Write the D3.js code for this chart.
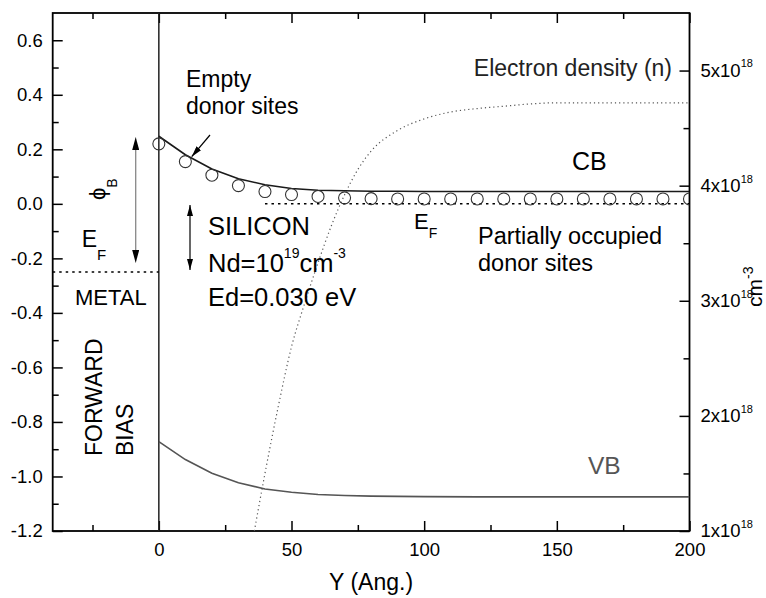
<!DOCTYPE html>
<html><head><meta charset="utf-8">
<script src="https://cdn.jsdelivr.net/npm/d3@7"></script>
<style>
body{margin:0;background:#fff;}
svg{font-family:"Liberation Sans",Arial,Helvetica,sans-serif;}
</style></head><body>
<svg id="chart" width="766" height="598"></svg>
<script>
// Depth into the semiconductor, Å
const bandX = [0, 10, 20, 30, 40, 50, 60, 70, 80, 90, 100, 120, 140, 160, 180, 200];
// Conduction and valence band edges, eV
const cbEnergy = [0.248, 0.18, 0.128, 0.092, 0.07, 0.056, 0.05, 0.048, 0.046, 0.046, 0.045, 0.045, 0.045, 0.045, 0.045, 0.045];
const vbEnergy = [-0.872, -0.938, -0.988, -1.023, -1.046, -1.058, -1.066, -1.07, -1.072, -1.073, -1.074, -1.075, -1.075, -1.075, -1.075, -1.075];
// Donor level positions, eV
const donorX = [0, 10, 20, 30, 40, 50, 60, 70, 80, 90, 100, 110, 120, 130, 140, 150, 160, 170, 180, 190, 200];
const donorLevel = [0.22, 0.155, 0.105, 0.067, 0.045, 0.034, 0.027, 0.022, 0.019, 0.018, 0.018, 0.018, 0.018, 0.018, 0.018, 0.018, 0.018, 0.018, 0.018, 0.018, 0.018];
// Electron density, 10^18 cm^-3
const densityX = [36, 40, 45, 50, 55, 60, 65, 70, 75, 80, 90, 100, 110, 120, 130, 140, 150, 160, 180, 200];
const densityN = [1.0, 1.5, 2.08, 2.6, 2.98, 3.33, 3.65, 3.92, 4.14, 4.3, 4.48, 4.58, 4.64, 4.67, 4.69, 4.71, 4.72, 4.72, 4.72, 4.72];
// Fermi levels, eV
const metalFermi = -0.25;
const siliconFermi = 0.0;
const siliconFermiStart = 40;
// Axis ticks
const xTicks = [0, 50, 100, 150, 200];
const xMinorTicks = [-25, 25, 75, 125, 175];
const yTicks = [-1.2, -1.0, -0.8, -0.6, -0.4, -0.2, 0.0, 0.2, 0.4, 0.6];
const yMinorTicks = [-1.1, -0.9, -0.7, -0.5, -0.3, -0.1, 0.1, 0.3, 0.5];
const nTicks = [1, 2, 3, 4, 5];
const nMinorTicks = [1.5, 2.5, 3.5, 4.5];

const svg = d3.select("#chart");
const L = 52.7, R = 689.5, T = 13, B = 531;

const x = d3.scaleLinear().domain([-40, 200]).range([L, R]);
const y = d3.scaleLinear().domain([-1.2, 0.7]).range([B, T]);
const yN = d3.scaleLinear().domain([1, 5.5]).range([B, T]);

const defs = svg.append("defs");
defs.append("clipPath").attr("id", "plot")
  .append("rect").attr("x", L).attr("y", T).attr("width", R - L).attr("height", B - T);
function marker(id, w, h) {
  defs.append("marker").attr("id", id)
    .attr("viewBox", "0 0 10 10").attr("refX", 10).attr("refY", 5)
    .attr("markerWidth", w).attr("markerHeight", h)
    .attr("markerUnits", "userSpaceOnUse")
    .attr("preserveAspectRatio", "none")
    .attr("orient", "auto-start-reverse")
    .append("path").attr("d", "M0,0 L10,5 L0,10 z").attr("fill", "#000");
}
marker("headL", 13, 7);
marker("headS", 11, 6);

// Plain hyphen for negative numbers
const fmt = d => d.toFixed(1);
const styleAxis = g => {
  g.select(".domain").remove();
  g.selectAll(".tick line").attr("stroke", "#000").attr("stroke-width", 1.5);
  g.selectAll(".tick text").attr("font-size", "18.5px").attr("fill", "#000");
};

// Left axis
svg.append("g").attr("transform", `translate(${L},0)`)
  .call(d3.axisLeft(y).tickValues(yTicks).tickFormat(fmt).tickSize(-10).tickPadding(10))
  .call(styleAxis);
svg.append("g").attr("transform", `translate(${L},0)`)
  .call(d3.axisLeft(y).tickValues(yMinorTicks).tickFormat("").tickSize(-6))
  .call(styleAxis);
// Bottom axis
svg.append("g").attr("transform", `translate(0,${B})`)
  .call(d3.axisBottom(x).tickValues(xTicks).tickFormat(d => String(d)).tickSize(-10).tickPadding(12))
  .call(styleAxis);
svg.append("g").attr("transform", `translate(0,${B})`)
  .call(d3.axisBottom(x).tickValues(xMinorTicks).tickFormat("").tickSize(-6))
  .call(styleAxis);
// Top axis (ticks only)
svg.append("g").attr("transform", `translate(0,${T})`)
  .call(d3.axisTop(x).tickValues(xTicks).tickFormat("").tickSize(-10))
  .call(styleAxis);
svg.append("g").attr("transform", `translate(0,${T})`)
  .call(d3.axisTop(x).tickValues(xMinorTicks).tickFormat("").tickSize(-6))
  .call(styleAxis);
// Right axis: electron density
svg.append("g").attr("transform", `translate(${R},0)`)
  .call(d3.axisRight(yN).tickValues(nTicks).tickSize(-10).tickPadding(11))
  .call(styleAxis)
  .call(g => g.selectAll(".tick text").each(function (d) {
    const t = d3.select(this).text(null);
    t.append("tspan").text(d + "x10");
    t.append("tspan").attr("dy", -9.5).attr("font-size", "11px").text("18");
  }));
svg.append("g").attr("transform", `translate(${R},0)`)
  .call(d3.axisRight(yN).tickValues(nMinorTicks).tickFormat("").tickSize(-6))
  .call(styleAxis);

// Frame
svg.append("rect").attr("x", L).attr("y", T).attr("width", R - L).attr("height", B - T)
  .attr("fill", "none").attr("stroke", "#000").attr("stroke-width", 1.8);

const plot = svg.append("g").attr("clip-path", "url(#plot)");

// Interface at Y = 0
plot.append("line").attr("x1", x(0)).attr("x2", x(0)).attr("y1", T).attr("y2", B)
  .attr("stroke", "#222").attr("stroke-width", 1.5);

// Fermi levels
plot.append("line").attr("x1", x(-40)).attr("x2", x(0))
  .attr("y1", y(metalFermi)).attr("y2", y(metalFermi))
  .attr("stroke", "#000").attr("stroke-width", 1.5).attr("stroke-dasharray", "2.5,4");
plot.append("line").attr("x1", x(siliconFermiStart)).attr("x2", x(200))
  .attr("y1", y(siliconFermi)).attr("y2", y(siliconFermi))
  .attr("stroke", "#000").attr("stroke-width", 1.5).attr("stroke-dasharray", "2.5,4");

// Electron density (right axis)
plot.append("path")
  .datum(densityX.map((d, i) => [d, densityN[i]]))
  .attr("d", d3.line().x(d => x(d[0])).y(d => yN(d[1])).curve(d3.curveMonotoneX))
  .attr("fill", "none").attr("stroke", "#555").attr("stroke-width", 1.2)
  .attr("stroke-dasharray", "1.2,3");

// Band edges
const bandLine = d3.line().x(d => x(d[0])).y(d => y(d[1]));
plot.append("path")
  .datum(bandX.map((d, i) => [d, cbEnergy[i]]))
  .attr("d", bandLine).attr("fill", "none").attr("stroke", "#1a1a1a").attr("stroke-width", 1.6);
plot.append("path")
  .datum(bandX.map((d, i) => [d, vbEnergy[i]]))
  .attr("d", bandLine).attr("fill", "none").attr("stroke", "#555").attr("stroke-width", 1.6);

// Donor sites
plot.selectAll("circle.donor")
  .data(donorX.map((d, i) => [d, donorLevel[i]]))
  .join("circle").attr("class", "donor")
  .attr("cx", d => x(d[0])).attr("cy", d => y(d[1])).attr("r", 6)
  .attr("fill", "none").attr("stroke", "#333").attr("stroke-width", 1.1);

// Barrier-height arrow: grey shaft, black heads
svg.append("line").attr("x1", 135.7).attr("x2", 135.7).attr("y1", 150).attr("y2", 250)
  .attr("stroke", "#888").attr("stroke-width", 1.3);
svg.append("path").attr("d", "M135.7,149 L135.7,137").attr("stroke", "#000").attr("stroke-width", 0.1)
  .attr("marker-end", "url(#headL)");
svg.append("path").attr("d", "M135.7,251 L135.7,263").attr("stroke", "#000").attr("stroke-width", 0.1)
  .attr("marker-end", "url(#headL)");

svg.append("line").attr("x1", 190).attr("x2", 190).attr("y1", 205).attr("y2", 270)
  .attr("stroke", "#000").attr("stroke-width", 1.2)
  .attr("marker-start", "url(#headS)").attr("marker-end", "url(#headS)");

svg.append("line").attr("x1", 210).attr("y1", 135).attr("x2", 191.7).attr("y2", 156.7)
  .attr("stroke", "#000").attr("stroke-width", 1.2)
  .attr("marker-end", "url(#headS)");

// Text labels
function label(txt, px, py, size, opts = {}) {
  const t = svg.append("text").attr("x", px).attr("y", py)
    .attr("font-size", size + "px").attr("fill", opts.fill || "#000")
    .attr("text-anchor", opts.anchor || "start").text(txt);
  if (opts.rotate) t.attr("transform", `rotate(-90,${px},${py})`);
  return t;
}
label("Empty", 186, 86.5, 23);
label("donor sites", 186, 113.5, 23);
label("Electron density (n)", 672, 76, 23, { anchor: "end", fill: "#222" });
label("CB", 572, 170, 25);
label("VB", 588, 474, 24.5, { fill: "#555" });
label("SILICON", 208, 235, 25.5);
const nd = label("Nd=10", 208, 271.5, 25.5);
nd.append("tspan").attr("font-size", "14px").attr("dy", -14).text("19");
nd.append("tspan").attr("dy", 14).text("cm");
nd.append("tspan").attr("font-size", "14px").attr("dy", -14).text("-3");
label("Ed=0.030 eV", 208, 306, 25.5);
label("Partially occupied", 478, 243.5, 23.5);
label("donor sites", 478, 271, 23.5);
label("METAL", 75, 305, 22);
label("FORWARD", 101.7, 456, 23, { rotate: true });
label("BIAS", 132.7, 456, 23, { rotate: true });

const ef1 = label("E", 81.7, 247, 23);
ef1.append("tspan").attr("font-size", "15px").attr("dy", 13).text("F");
const ef2 = label("E", 414, 229, 22);
ef2.append("tspan").attr("font-size", "14px").attr("dy", 9).text("F");

const phi = label("ϕ", 105, 200, 22, { rotate: true });
phi.append("tspan").attr("font-size", "14px").attr("dy", 12).text("B");

const cm = label("cm", 762, 307, 21, { rotate: true });
cm.append("tspan").attr("font-size", "14px").attr("dy", -9).text("-3");

label("Y (Ang.)", (L + R) / 2, 590, 23, { anchor: "middle" });
</script>
</body></html>
